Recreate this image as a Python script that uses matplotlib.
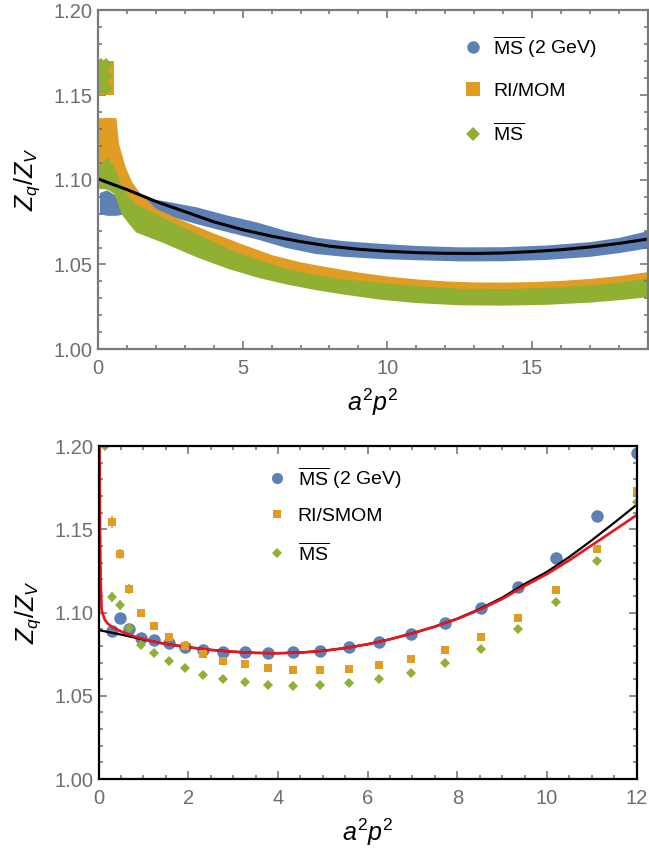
import matplotlib
matplotlib.use("Agg")
import matplotlib.pyplot as plt
from matplotlib.lines import Line2D
from matplotlib.ticker import MultipleLocator, FormatStrFormatter

plt.rcParams['font.family'] = ['Liberation Sans', 'DejaVu Sans']
plt.rcParams['mathtext.fontset'] = 'custom'
plt.rcParams['mathtext.rm'] = 'Liberation Sans'
plt.rcParams['mathtext.it'] = 'Liberation Sans:italic'
plt.rcParams['mathtext.bf'] = 'Liberation Sans:bold'

BLUE = '#5e81b5'
ORANGE = '#e19c24'
GREEN = '#8fb032'
GRAY = '#6e6e6e'

# ---- upper panel: RI/MOM data, shown as bands (lower/upper edge of the point cloud)
ms2_x = [0.05, 0.3, 0.6, 1.0, 1.6, 2.2, 3.4, 4.5, 5.5, 6.5, 7.5, 8.5, 9.75, 11, 12.5, 14, 15.5, 17, 18, 19]
ms2_hi = [1.0925, 1.0940, 1.0910, 1.0900, 1.0889, 1.0879, 1.0840, 1.0790, 1.0750, 1.0700, 1.0662, 1.0640,
          1.0625, 1.0612, 1.0604, 1.0605, 1.0615, 1.0635, 1.0660, 1.0700]
ms2_lo = [1.0800, 1.0790, 1.0790, 1.0800, 1.0810, 1.0800, 1.0741, 1.0692, 1.0650, 1.0600, 1.0565, 1.0548,
          1.0535, 1.0528, 1.0521, 1.0522, 1.0530, 1.0548, 1.0570, 1.0598]

mom_x = [0.02, 0.62, 0.71, 0.94, 1.17, 1.46, 2.0, 3.0, 4.0, 5.0, 6.0, 7.0, 8.0, 9.0, 10.0, 11.0, 12.0,
         13.0, 14.0, 15.0, 16.0, 17.0, 18.0, 19.0]
mom_hi = [1.1367, 1.1367, 1.1214, 1.1076, 1.0987, 1.0918, 1.0830, 1.0755, 1.0685, 1.0620, 1.0558, 1.0515,
          1.0484, 1.0455, 1.0432, 1.0415, 1.0403, 1.0397, 1.0396, 1.0399, 1.0406, 1.0418, 1.0434, 1.0458]
mom_lo = [1.1000, 1.0940, 1.0880, 1.0800, 1.0760, 1.0720, 1.0680, 1.0605, 1.0535, 1.0480, 1.0435, 1.0400,
          1.0373, 1.0350, 1.0330, 1.0315, 1.0305, 1.0300, 1.0298, 1.0302, 1.0308, 1.0318, 1.0330, 1.0345]

msb_x = [0.0, 0.3, 0.55, 0.8, 1.06, 1.3, 2.2, 3.4, 4.5, 5.5, 6.5, 7.5, 8.5, 9.75, 11, 12.5, 14, 15.5, 17, 18, 19]
msb_hi = [1.1080, 1.1135, 1.1080, 1.0970, 1.0900, 1.0860, 1.0780, 1.0683, 1.0594, 1.0530, 1.0478, 1.0440,
          1.0414, 1.0395, 1.0375, 1.0360, 1.0358, 1.0365, 1.0380, 1.0395, 1.0420]
msb_lo = [1.0950, 1.0945, 1.0920, 1.0800, 1.0741, 1.0692, 1.0633, 1.0545, 1.0476, 1.0425, 1.0385, 1.0352,
          1.0325, 1.0295, 1.0275, 1.0262, 1.0260, 1.0265, 1.0278, 1.0292, 1.0310]

# lowest-momentum points sitting far above the bands
mom_low_x = [0.13, 0.13, 0.13, 0.33, 0.33, 0.33]
mom_low_y = [1.1535, 1.1600, 1.1665, 1.1535, 1.1600, 1.1665]
msb_low_x = [0.12, 0.12, 0.12, 0.28, 0.28, 0.28]
msb_low_y = [1.1540, 1.1610, 1.1675, 1.1540, 1.1610, 1.1675]

fit_top_x = [0, 1, 2, 3, 4, 5, 6, 7, 8, 9, 10, 11, 12, 13, 14, 15, 16, 17, 18, 19]
fit_top_y = [1.1005, 1.0942, 1.0872, 1.0812, 1.0752, 1.0705, 1.0667, 1.0635, 1.0608, 1.0590, 1.0578,
             1.0570, 1.0566, 1.0565, 1.0568, 1.0576, 1.0587, 1.0603, 1.0624, 1.0650]

# ---- lower panel: RI/SMOM data with error bars
smom_x = [0.30, 0.475, 0.68, 0.94, 1.23, 1.56, 1.93, 2.33, 2.78, 3.26, 3.78, 4.34, 4.94,
          5.59, 6.25, 6.96, 7.72, 8.52, 9.35, 10.2, 11.11, 12.0]
smom_ms2 = [1.0892, 1.0966, 1.0902, 1.0850, 1.0836, 1.0816, 1.0796, 1.0776, 1.0762, 1.0762, 1.0756,
            1.0762, 1.0772, 1.0792, 1.0824, 1.0872, 1.0936, 1.1026, 1.1152, 1.1330, 1.1580, 1.1956]
smom_ri = [1.1546, 1.1350, 1.1140, 1.0996, 1.0920, 1.0856, 1.0800, 1.0750, 1.0712, 1.0690, 1.0666,
           1.0656, 1.0656, 1.0664, 1.0684, 1.0720, 1.0776, 1.0856, 1.0970, 1.1136, 1.1380, 1.1732]
smom_ri_err = [0.0035, 0.0030, 0.0030, 0.0022, 0.0018, 0.0015, 0.0012, 0.0010, 0.0010, 0.0010, 0.0010,
               0.0010, 0.0010, 0.0010, 0.0010, 0.0010, 0.0010, 0.0012, 0.0012, 0.0015, 0.0018, 0.0020]
smom_msb = [1.1096, 1.1046, 1.0906, 1.0806, 1.0756, 1.0712, 1.0666, 1.0626, 1.0600, 1.0586, 1.0566,
            1.0562, 1.0566, 1.0576, 1.0604, 1.0640, 1.0696, 1.0780, 1.0900, 1.1066, 1.1308, 1.1666]
smom_msb_err = [0.0030, 0.0028, 0.0022, 0.0018, 0.0015, 0.0012, 0.0010, 0.0010, 0.0010, 0.0010, 0.0010,
                0.0010, 0.0010, 0.0010, 0.0010, 0.0010, 0.0010, 0.0012, 0.0012, 0.0015, 0.0018, 0.0020]
msb_extra_x = [0.15]
msb_extra_y = [1.2000]

fit_bot_x = [0, 0.5, 1, 1.5, 2, 2.5, 3, 3.5, 4, 4.5, 5, 5.5, 6, 6.5, 7, 7.5, 8, 8.5, 9, 9.5, 10,
             10.5, 11, 11.5, 12]
fit_bot_y = [1.0895, 1.0868, 1.0838, 1.0812, 1.0792, 1.0776, 1.0765, 1.0758, 1.0756, 1.0760, 1.0770,
             1.0787, 1.0810, 1.0840, 1.0876, 1.0916, 1.0964, 1.1022, 1.1090, 1.1172, 1.1245, 1.1335,
             1.1435, 1.1540, 1.1648]
fit_red_x = [0.02, 0.03, 0.045, 0.067, 0.1, 0.14, 0.2, 0.29, 0.4, 0.51, 0.65, 0.81, 1.0, 1.4, 2, 2.5, 3,
             3.5, 4, 4.5, 5, 5.5, 6, 6.5, 7, 7.5, 8, 8.5, 9, 9.5, 10, 10.5, 11, 11.5, 12]
fit_red_y = [1.2000, 1.1496, 1.1196, 1.1016, 1.0985, 1.0956, 1.0935, 1.0916, 1.0900, 1.0886, 1.0870,
             1.0856, 1.0842, 1.0816, 1.0792, 1.0776, 1.0765, 1.0758, 1.0756, 1.0760, 1.0770, 1.0787,
             1.0810, 1.0840, 1.0876, 1.0916, 1.0962, 1.1018, 1.1082, 1.1160, 1.1232, 1.1315, 1.1405,
             1.1495, 1.1586]


def style_axes(ax, frame_color, xmajor, xminor):
    for sp in ax.spines.values():
        sp.set_color(frame_color)
        sp.set_linewidth(1.6)
    ax.xaxis.set_major_locator(MultipleLocator(xmajor))
    ax.xaxis.set_minor_locator(MultipleLocator(xminor))
    ax.yaxis.set_major_locator(MultipleLocator(0.05))
    ax.yaxis.set_minor_locator(MultipleLocator(0.01))
    ax.yaxis.set_major_formatter(FormatStrFormatter('%.2f'))
    ax.tick_params(which='both', direction='in', top=True, right=True, color=GRAY,
                   labelcolor=GRAY, labelsize=14.5, width=1.1)
    ax.tick_params(which='major', length=5.5)
    ax.tick_params(which='minor', length=3)
    ax.tick_params(axis='x', pad=7)
    ax.tick_params(axis='y', pad=4)
    ax.set_ylim(1.0, 1.2)


fig = plt.figure(figsize=(6.49, 8.58), dpi=100)

# upper panel
ax1 = fig.add_axes([0.151, 0.593, 0.847, 0.395])
ax1.fill_between(ms2_x, ms2_lo, ms2_hi, color=BLUE, lw=0)
ax1.fill_between(mom_x, mom_lo, mom_hi, color=ORANGE, lw=0)
ax1.plot(mom_low_x, mom_low_y, 's', color=ORANGE, ms=8, mew=0)
ax1.fill_between(msb_x, msb_lo, msb_hi, color=GREEN, lw=0)
ax1.plot(msb_low_x, msb_low_y, 'D', color=GREEN, ms=7, mew=0)
ax1.plot(fit_top_x, fit_top_y, color='black', lw=2.2, solid_capstyle='butt')
ax1.set_xlim(0, 19)
style_axes(ax1, '#7a7a7a', 5, 1)
ax1.set_xlabel(r'$a^2p^2$', fontsize=18, labelpad=6)
ax1.set_ylabel(r'$Z_q/Z_V$', fontsize=18, labelpad=8)

h1 = [Line2D([], [], ls='', marker='o', color=BLUE, ms=9, mew=0),
      Line2D([], [], ls='', marker='s', color=ORANGE, ms=9.5, mew=0),
      Line2D([], [], ls='', marker='D', color=GREEN, ms=7.5, mew=0)]
ax1.legend(h1, [r'$\overline{\mathrm{MS}}$ (2 GeV)', 'RI/MOM', r'$\overline{\mathrm{MS}}$'],
           loc='upper left', bbox_to_anchor=(0.664, 0.93), borderaxespad=0, borderpad=0,
           frameon=False, fontsize=14, handlelength=1.0, handletextpad=0.55, labelspacing=1.15)

# lower panel
ax2 = fig.add_axes([0.152, 0.092, 0.829, 0.388])
ax2.errorbar(smom_x, smom_ri, yerr=smom_ri_err, fmt='s', color=ORANGE, ms=6, mew=0,
             elinewidth=1.2, capsize=3, capthick=1.2)
ax2.errorbar(smom_x, smom_msb, yerr=smom_msb_err, fmt='D', color=GREEN, ms=5, mew=0,
             elinewidth=1.2, capsize=3, capthick=1.2)
ax2.plot(msb_extra_x, msb_extra_y, 'D', color=GREEN, ms=5, mew=0)
ax2.plot(smom_x, smom_ms2, 'o', color=BLUE, ms=9, mew=0)
ax2.plot(fit_bot_x, fit_bot_y, color='black', lw=1.6)
ax2.plot(fit_red_x, fit_red_y, color='#e8141e', lw=1.9)
ax2.set_xlim(0, 12)
style_axes(ax2, 'black', 2, 0.5)
ax2.set_xlabel(r'$a^2p^2$', fontsize=18, labelpad=6)
ax2.set_ylabel(r'$Z_q/Z_V$', fontsize=18, labelpad=8)

h2 = [Line2D([], [], ls='', marker='o', color=BLUE, ms=8, mew=0),
      Line2D([], [], ls='', marker='s', color=ORANGE, ms=6, mew=0),
      Line2D([], [], ls='', marker='D', color=GREEN, ms=5.5, mew=0)]
ax2.legend(h2, [r'$\overline{\mathrm{MS}}$ (2 GeV)', 'RI/SMOM', r'$\overline{\mathrm{MS}}$'],
           loc='upper left', bbox_to_anchor=(0.314, 0.943), borderaxespad=0, borderpad=0,
           frameon=False, fontsize=14, handlelength=1.0, handletextpad=0.55, labelspacing=0.85)

fig.savefig('out.png', dpi=100)
